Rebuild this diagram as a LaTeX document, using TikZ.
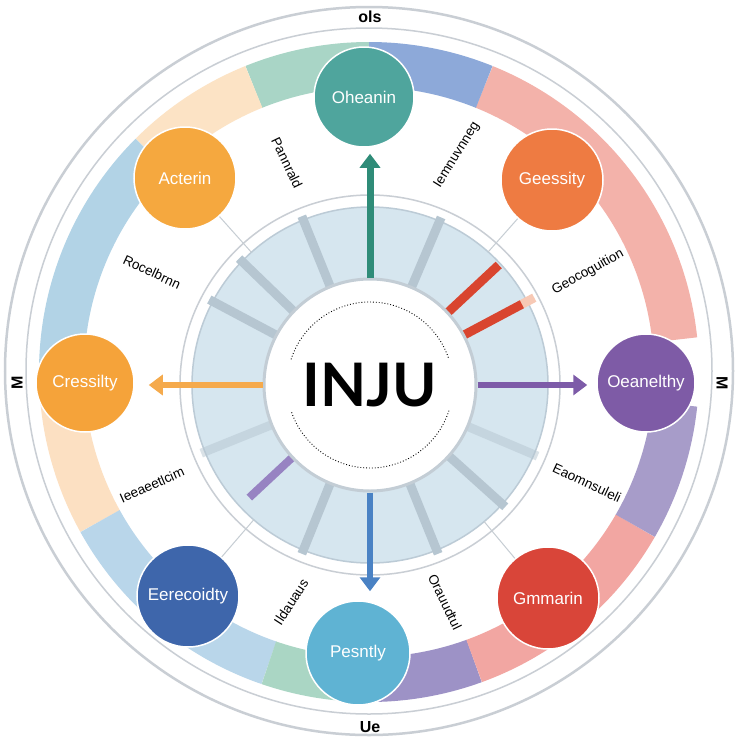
\documentclass[tikz,border=0pt]{standalone}
\usepackage{fontspec}
\setmainfont{Liberation Sans}
\newfontfamily\logofont{Lato}
\usetikzlibrary{arrows.meta,calc}
\definecolor{ringgray}{HTML}{C9CED4}
\definecolor{bGreen}{HTML}{A9D5C6}
\definecolor{bBlue}{HTML}{8DA9D9}
\definecolor{bPink}{HTML}{F3B2AA}
\definecolor{bLav}{HTML}{A79CC9}
\definecolor{bPink2}{HTML}{F2A6A2}
\definecolor{bPurp}{HTML}{9D92C6}
\definecolor{bGreen2}{HTML}{AAD6C4}
\definecolor{bLBlue}{HTML}{B9D6EA}
\definecolor{bPeach}{HTML}{FCE0C2}
\definecolor{bLBlue2}{HTML}{B2D3E6}
\definecolor{bPeach2}{HTML}{FCE3C5}
\definecolor{cTeal}{HTML}{4FA59D}
\definecolor{cOrange}{HTML}{F5A83F}
\definecolor{cOrRed}{HTML}{EE7B42}
\definecolor{cOrange2}{HTML}{F5A33A}
\definecolor{cPurple}{HTML}{7E5BA6}
\definecolor{cBlue}{HTML}{3E66AB}
\definecolor{cSky}{HTML}{5FB3D3}
\definecolor{cRed}{HTML}{D94539}
\definecolor{diskblue}{HTML}{D6E6EF}
\definecolor{diskedge}{HTML}{BCCBD6}
\definecolor{spokegray}{HTML}{B6C6D1}
\definecolor{coreedge}{HTML}{C3CDD5}
\definecolor{arTeal}{HTML}{2F8C78}
\definecolor{arOrange}{HTML}{F5AA4C}
\definecolor{arPurple}{HTML}{7D5BA8}
\definecolor{arBlue}{HTML}{4A82C4}
\definecolor{spRed}{HTML}{D9452F}
\definecolor{spPeach}{HTML}{F7C9B5}
\definecolor{spPurple}{HTML}{9783C2}
\definecolor{leadgray}{HTML}{C6CDD3}
\tikzset{
  bandseg/.style={line width=45pt},
  topic/.style={circle, minimum size=#1, inner sep=0pt, draw=white, line width=1.5pt,
    text=white, font=\fontsize{17}{17}\selectfont},
  topic/.default=102pt,
  spokeline/.style={line width=9pt, spokegray},
  bigarrow/.style={line width=7pt, -{Triangle[width=20pt,length=14pt]}},
  leader/.style={leadgray, line width=1pt},
  glabel/.style={font=\fontsize{13.5}{14}\selectfont, text=black, inner sep=1pt},
  rimlabel/.style={font=\fontsize{16}{16}\selectfont\bfseries, text=black, inner sep=1pt}
}
\begin{document}
\begin{tikzpicture}[x=1pt,y=-1pt]
\useasboundingbox (0,0) rectangle (740,740);
\fill[white] (0,0) rectangle (740,740);
% outer rings
\draw[ringgray, line width=2.5pt] (369,371) circle[radius=364];
\draw[ringgray, line width=1.5pt] (369,371) circle[radius=343];
% coloured band
\begin{scope}[shift={(369,372)}]
  \foreach \a/\b/\c in {-112/-90/bGreen, -135/-112/bPeach2, -180/-135/bLBlue2,
      151/180/bPeach, 109/151/bLBlue, 90/109/bGreen2, 70/90/bPurp, 30/70/bPink2,
      6/30/bLav, -68/-6/bPink, -90/-68/bBlue}
    \draw[bandseg, \c] (\a:307.5) arc[start angle=\a, end angle=\b, radius=307.5];
\end{scope}
% inner disk
\begin{scope}[shift={(370,385)}]
  \fill[diskblue] (0,0) circle[radius=178];
  \draw[diskedge, line width=1.5pt] (0,0) circle[radius=178];
  \draw[ringgray, line width=1.5pt] (0,0) circle[radius=190];
  \foreach \a in {-112,-67,-136,-152,112,68,42}
    \draw[spokeline] (\a:106) -- (\a:182);
  \foreach \a in {158,23}
    \draw[spokeline, opacity=0.5] (\a:106) -- (\a:182);
  \draw[line width=9pt, spRed] (-43:106) -- (-43:176);
  \draw[line width=9pt, spPeach] (-28:170) -- (-28:186);
  \draw[line width=9pt, spRed] (-28:106) -- (-28:172);
  \draw[line width=8pt, spPurple] (137:103) -- (137:165);
\end{scope}
% diagonal nodes and leader lines
\node[topic, fill=cOrange] (ac) at (185,178) {Acterin};
\node[topic, fill=cOrRed] (ge) at (552,180) {Geessity};
\node[topic, fill=cBlue] (ee) at (188,596) {Eerecoidty};
\node[topic, fill=cRed] (gm) at (548,598) {Gmmarin};
\coordinate (ctr) at (370,385);
\draw[leader] (ac) -- ($(ctr)!178pt!(ac)$);
\draw[leader] (ge) -- ($(ctr)!178pt!(ge)$);
\draw[leader] (ee) -- ($(ctr)!178pt!(ee)$);
\draw[leader] (gm) -- ($(ctr)!178pt!(gm)$);
% other nodes
\node[topic=100pt, fill=cTeal] (oh) at (364,97) {Oheanin};
\node[topic=98pt, fill=cOrange2] (cr) at (85,383) {Cressilty};
\node[topic=98pt, fill=cPurple] (oe) at (646,383) {Oeanelthy};
\node[topic=104pt, fill=cSky] (pe) at (358,653) {Pesntly};
% core
\node[circle, fill=white, draw=coreedge, line width=3pt, minimum size=212pt, inner sep=0pt,
  font=\logofont\bfseries\fontsize{60}{60}\selectfont] (core) at (370,385) {INJU};
\begin{scope}[shift={(370,385)}]
  \draw[dotted, line width=0.9pt] (-162:83) arc[start angle=-162, end angle=-18, radius=83];
  \draw[dotted, line width=0.9pt] (18:83) arc[start angle=18, end angle=162, radius=83];
\end{scope}
% arrows
\draw[bigarrow, arTeal, shorten >=6pt] (core.north) -- (core.north |- oh.south);
\draw[bigarrow, arOrange, line width=6pt, shorten >=14pt] (core.west) -- (core.west -| cr.east);
\draw[bigarrow, arPurple, line width=6pt, shorten >=9pt] (core.east) -- (core.east -| oe.west);
\draw[bigarrow, arBlue, line width=6pt, shorten >=9pt] (core.south) -- (core.south |- pe.north);
% rim labels
\node[rimlabel] (rt) at (370,17) {ols};
\node[rimlabel] (rb) at (370,727) {Ue};
\node[rimlabel, rotate=90] (rl) at (17,383) {M};
\node[rimlabel, rotate=-90] (rr) at (722,383) {M};
% rotated labels
\node[glabel, rotate=-64] (l1) at (287,163) {Pannrald};
\node[glabel, rotate=58] (l2) at (457,155) {Iemnuvnneg};
\node[glabel, rotate=-25] (l3) at (152,272) {Rocelbrnn};
\node[glabel, rotate=29] (l4) at (588,272) {Geocoguition};
\node[glabel, rotate=-25] (l5) at (587,483) {Eaomnsuleli};
\node[glabel, rotate=24] (l6) at (152,485) {Ieeaeetlcim};
\node[glabel, rotate=57] (l7) at (291,602) {Ildauaus};
\node[glabel, rotate=-64] (l8) at (445,602) {Orauudtul};
\end{tikzpicture}
\end{document}
